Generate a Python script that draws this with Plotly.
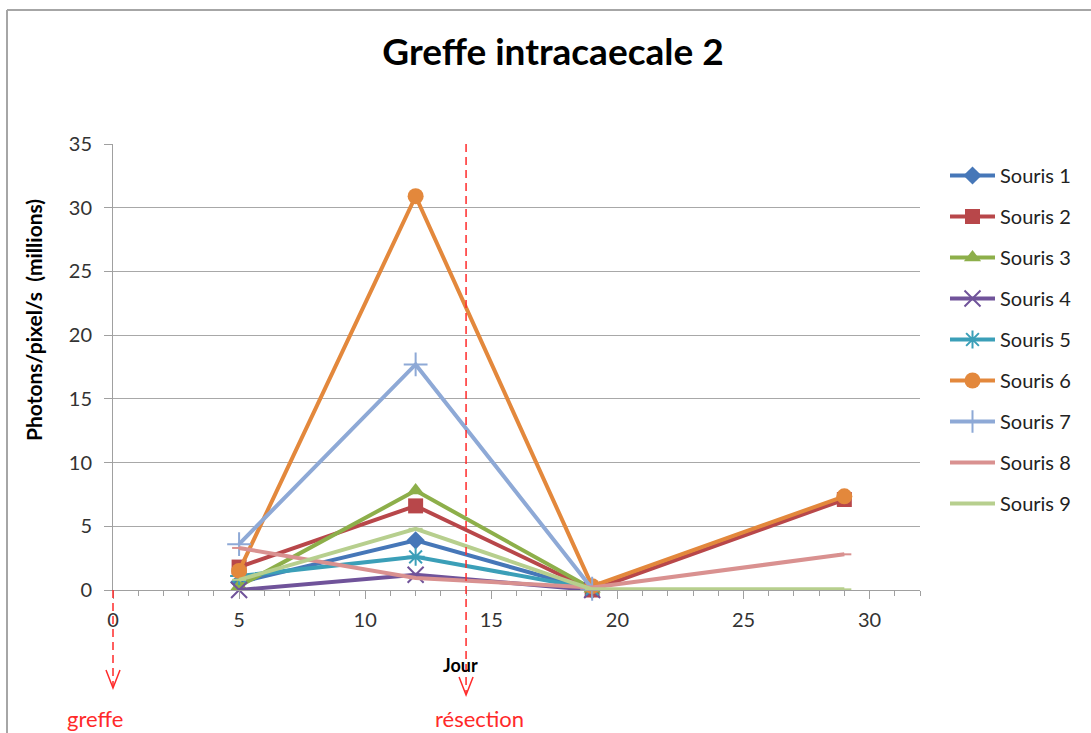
import plotly.graph_objects as go

days = [5, 12, 19, 29]
series_names = ["Souris 1", "Souris 2", "Souris 3", "Souris 4", "Souris 5",
                "Souris 6", "Souris 7", "Souris 8", "Souris 9"]
souris1 = [0.6, 3.9, 0.0, None]
souris2 = [1.8, 6.6, 0.0, 7.1]
souris3 = [0.3, 7.8, 0.1, None]
souris4 = [0.0, 1.2, 0.0, None]
souris5 = [1.1, 2.6, 0.1, None]
souris6 = [1.5, 30.9, 0.3, 7.35]
souris7 = [3.6, 17.7, 0.1, None]
souris8 = [3.3, 0.95, 0.2, 2.8]
souris9 = [0.8, 4.8, 0.05, 0.05]
values = [souris1, souris2, souris3, souris4, souris5, souris6, souris7, souris8, souris9]

colors = ["#4677B8", "#B8474A", "#8DAF4A", "#70539A", "#3B9FB8",
          "#E3883C", "#8EA9D6", "#D99190", "#B7CF8E"]
symbols = ["diamond", "square", "triangle-up", "x-thin-open", "asterisk-open",
           "circle", "cross-thin-open", "line-ew-open", "line-ew-open"]
msizes = [14, 15, 15, 16, 15, 16, 17, 10, 10]

event_days = [0, 14]
event_labels = ["greffe", "résection"]
event_tops = [0.0, 35.0]

x_ticks = [0, 5, 10, 15, 20, 25, 30]
y_ticks = [0, 5, 10, 15, 20, 25, 30, 35]
X_MAX, Y_MAX = 32, 35

FONT = "Lato"
fig = go.Figure()
for i, (name, vals) in enumerate(zip(series_names, values)):
    open_sym = symbols[i].endswith("open")
    fig.add_trace(go.Scatter(
        x=days, y=vals, name=name, mode="lines+markers",
        connectgaps=False, legendgroup=name,
        line=dict(color=colors[i], width=4),
        marker=dict(symbol=symbols[i], size=msizes[i], color=colors[i],
                    line=dict(color=colors[i], width=2 if open_sym else 0)),
        cliponaxis=False,
    ))

W, H = 1091, 733
L, R, T, B = 113, 171, 144, 143
pw, ph = W - L - R, H - T - B
def px_x(p):
    return (p - L) / pw
def px_y(p):
    return (H - B - p) / ph

shapes = []
# outer frame (top and left)
shapes.append(dict(type="line", xref="paper", yref="paper", x0=px_x(7), x1=px_x(W + 5),
                   y0=px_y(10), y1=px_y(10), line=dict(color="#A6A6A6", width=2)))
shapes.append(dict(type="line", xref="paper", yref="paper", x0=px_x(7), x1=px_x(7),
                   y0=px_y(10), y1=px_y(H + 5), line=dict(color="#A6A6A6", width=2)))

annotations = []
tips = [688, 695]
for d, lab, top, tip in zip(event_days, event_labels, event_tops, tips):
    y_top = top / Y_MAX
    xp = d / X_MAX
    dx = 7 / pw
    shapes.append(dict(type="line", xref="paper", yref="paper", x0=xp, x1=xp,
                       y0=y_top, y1=px_y(tip - 2),
                       line=dict(color="#FF2A2A", width=1.5, dash="8px,5px")))
    shapes.append(dict(type="path", xref="paper", yref="paper",
                       path=f"M {xp - dx} {px_y(tip - 18)} L {xp} {px_y(tip)} L {xp + dx} {px_y(tip - 18)}",
                       line=dict(color="#FF2A2A", width=1.5)))
    annotations.append(dict(xref="paper", yref="paper", x=xp, y=px_y(718), text=lab,
                            showarrow=False, xanchor="center", yanchor="middle",
                            xshift=-18 if d == 0 else 13,
                            font=dict(family=FONT, size=22, color="#FF2A2A")))

annotations.append(dict(xref="paper", yref="paper", x=px_x(460), y=px_y(665), text="<b>Jour</b>",
                        showarrow=False, xanchor="center", yanchor="middle",
                        font=dict(family=FONT, size=18, color="#000000")))
annotations.append(dict(xref="paper", yref="paper", x=px_x(33), y=px_y(320),
                        text="<b>Photons/pixel/s  (millions)</b>", textangle=-90,
                        showarrow=False, xanchor="center", yanchor="middle",
                        font=dict(family=FONT, size=21, color="#000000")))

fig.update_layout(
    width=W, height=H,
    margin=dict(l=L, r=R, t=T, b=B, pad=0),
    paper_bgcolor="white", plot_bgcolor="white",
    title=dict(text="<b>Greffe intracaecale 2</b>", x=px_x(553), xanchor="center",
               xref="paper", y=1 - 52 / H, yanchor="middle",
               font=dict(family=FONT, size=37, color="#000000")),
    font=dict(family=FONT, size=20, color="#222222"),
    showlegend=True,
    legend=dict(x=px_x(945), xanchor="left", y=px_y(156), yanchor="top",
                traceorder="grouped", tracegroupgap=12, itemwidth=45,
                font=dict(family=FONT, size=20, color="#222222"),
                bgcolor="rgba(0,0,0,0)"),
    shapes=shapes, annotations=annotations,
)
fig.update_xaxes(range=[0, X_MAX], tickvals=x_ticks, ticktext=[str(v) for v in x_ticks],
                 showgrid=False, zeroline=False, showline=True, linecolor="#A0A0A0", linewidth=1,
                 ticks="outside", ticklen=8, tickcolor="#A0A0A0", ticklabelstandoff=4,
                 minor=dict(dtick=1, ticks="outside", ticklen=5, tickcolor="#A0A0A0", showgrid=False),
                 tickfont=dict(family=FONT, size=20, color="#333333"))
fig.update_yaxes(range=[0, Y_MAX], tickvals=y_ticks, ticktext=[str(v) for v in y_ticks],
                 showgrid=True, gridcolor="#A8A8A8", gridwidth=1, zeroline=False,
                 showline=True, linecolor="#A0A0A0", linewidth=1,
                 ticks="outside", ticklen=8, tickcolor="#A0A0A0", ticklabelstandoff=8,
                 tickfont=dict(family=FONT, size=20, color="#333333"))

fig.write_html("out.html", config={"displayModeBar": False},
               post_script="document.body.style.margin='0';document.body.style.overflow='hidden';")
